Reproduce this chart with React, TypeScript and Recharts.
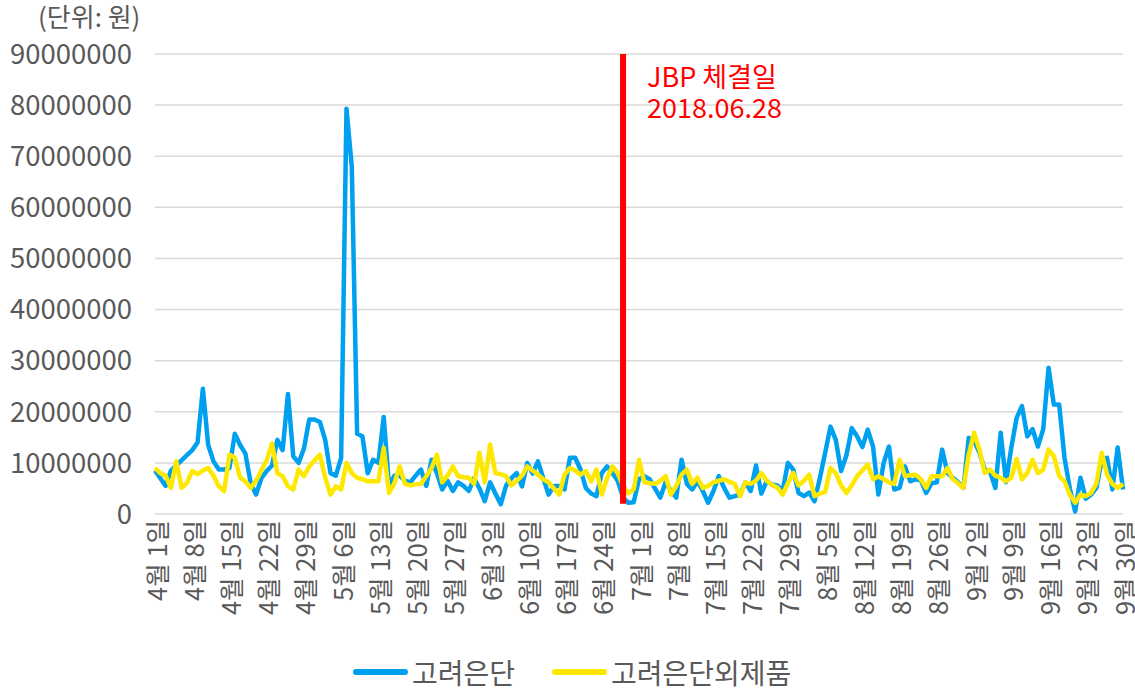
import { LineChart, Line, XAxis, YAxis, CartesianGrid, ReferenceLine } from "recharts";

const MONTHS = [4, 5, 6, 7, 8, 9];
const MONTH_DAYS = [30, 31, 30, 31, 31, 30];
const DATES = MONTHS.flatMap((m, i) =>
  Array.from({ length: MONTH_DAYS[i] }, (_, d) => `${m}월 ${d + 1}일`)
);

const TICK_LABELS = [
  "4월 1일", "4월 8일", "4월 15일", "4월 22일", "4월 29일", "5월 6일", "5월 13일",
  "5월 20일", "5월 27일", "6월 3일", "6월 10일", "6월 17일", "6월 24일", "7월 1일",
  "7월 8일", "7월 15일", "7월 22일", "7월 29일", "8월 5일", "8월 12일", "8월 19일",
  "8월 26일", "9월 2일", "9월 9일", "9월 16일", "9월 23일", "9월 30일",
];

const Y_TICKS = [0, 10000000, 20000000, 30000000, 40000000, 50000000, 60000000, 70000000, 80000000, 90000000];

const SERIES_NAMES = ["고려은단", "고려은단외제품"];
const SERIES_COLORS = ["#00A0F0", "#FFE800"];

// 4/1 ~ 9/30 daily, in won
const EUNDAN = [
  8500000, 7000000, 5500000, 8500000, 9500000, 10500000, 11500000, 12500000, 14000000, 24500000,
  13500000, 10300000, 8700000, 8700000, 9000000, 15700000, 13500000, 11800000, 6000000, 3800000,
  7000000, 8400000, 9500000, 14500000, 12500000, 23500000, 11300000, 10000000, 12800000, 18500000,
  18500000, 18000000, 14500000, 8000000, 7500000, 11000000, 79300000, 68000000, 15700000, 15200000,
  8000000, 10600000, 10000000, 19000000, 5500000, 7500000, 7500000, 6500000, 6200000, 7500000,
  8700000, 5500000, 10600000, 8000000, 4800000, 6500000, 4500000, 6200000, 5500000, 4500000,
  7000000, 5000000, 2500000, 6200000, 4000000, 1900000, 5500000, 7000000, 8000000, 5400000,
  10000000, 7900000, 10300000, 7000000, 3800000, 5500000, 5500000, 4800000, 11000000, 11000000,
  8700000, 5100000, 4000000, 3500000, 8000000, 9300000, 8000000, 6500000, 3200000, 2200000,
  2300000, 6800000, 7400000, 6800000, 5000000, 3200000, 6200000, 4500000, 3200000, 10600000,
  5900000, 4800000, 6400000, 4500000, 2200000, 4500000, 7400000, 5100000, 3200000, 3500000,
  3800000, 6200000, 4500000, 9500000, 4000000, 6400000, 5800000, 5600000, 4500000, 10000000,
  8700000, 4100000, 3500000, 4200000, 2500000, 7000000, 12000000, 17100000, 14500000, 8400000,
  11500000, 16800000, 15200000, 13100000, 16500000, 13200000, 3800000, 10000000, 13200000, 4800000,
  5100000, 9300000, 6400000, 6800000, 6600000, 4100000, 6000000, 6200000, 12600000, 8000000,
  7100000, 6200000, 5100000, 14900000, 14300000, 12000000, 8700000, 8300000, 5100000, 15900000,
  6200000, 13000000, 18800000, 21100000, 15200000, 16600000, 13200000, 16600000, 28600000, 21400000,
  21400000, 11000000, 5000000, 500000, 7100000, 3000000, 3800000, 5100000, 10500000, 11000000,
  4800000, 13000000, 4800000,
];

const EUNDAN_OTHER = [
  9000000, 8000000, 7500000, 5100000, 10300000, 5100000, 6100000, 8400000, 7800000, 8500000,
  9000000, 7500000, 5400000, 4500000, 11600000, 11000000, 7100000, 6400000, 5100000, 6500000,
  8500000, 10500000, 13800000, 8000000, 7400000, 5400000, 4800000, 8700000, 7400000, 9300000,
  10500000, 11600000, 7100000, 3800000, 5400000, 4800000, 10000000, 8000000, 7100000, 6800000,
  6400000, 6400000, 6400000, 12900000, 4100000, 6000000, 9300000, 5900000, 5600000, 5800000,
  5900000, 7400000, 9000000, 11600000, 6200000, 7500000, 9300000, 7400000, 7200000, 7100000,
  5900000, 12000000, 6200000, 13600000, 8000000, 7800000, 7400000, 5600000, 6500000, 7500000,
  9300000, 8500000, 7700000, 6800000, 6200000, 5000000, 3800000, 7700000, 9000000, 8500000,
  7700000, 8400000, 6400000, 8700000, 3800000, 7000000, 9300000, 8000000, 5500000, 4100000,
  4800000, 10600000, 6200000, 6000000, 5900000, 6500000, 7400000, 3800000, 5500000, 7700000,
  8700000, 5900000, 7100000, 5100000, 5500000, 6200000, 6500000, 6800000, 6300000, 5900000,
  3500000, 6200000, 5900000, 6500000, 8000000, 6500000, 5700000, 5200000, 3800000, 6000000,
  8000000, 5600000, 6500000, 7700000, 3500000, 4000000, 4300000, 9000000, 8000000, 5600000,
  4100000, 5600000, 7400000, 8500000, 9700000, 6800000, 7400000, 6800000, 6200000, 5900000,
  10600000, 7400000, 7600000, 7700000, 6800000, 5100000, 7400000, 7400000, 7400000, 9000000,
  6800000, 6000000, 5100000, 11600000, 15900000, 12600000, 8000000, 8700000, 7500000, 7100000,
  6400000, 7100000, 10800000, 6800000, 8000000, 10600000, 8000000, 8700000, 12600000, 11300000,
  7400000, 6400000, 3800000, 2200000, 3800000, 3500000, 4100000, 6000000, 12000000, 7700000,
  5900000, 5100000, 5900000,
];

const EVENT_DATE = "6월 28일";
const EVENT_LABEL = ["JBP 체결일", "2018.06.28"];

const FONT = "'Noto Sans CJK KR', 'Noto Sans', sans-serif";
const TEXT = "#595959";

const data = DATES.map((date, i) => ({
  date,
  a: EUNDAN[i],
  b: EUNDAN_OTHER[i],
}));

function XTick({ x, y, payload }: any) {
  return (
    <text
      x={x}
      y={y}
      transform={`rotate(-90 ${x} ${y})`}
      textAnchor="end"
      dominantBaseline="central"
      fill={TEXT}
      fontSize={25.5}
      fontFamily={FONT}
    >
      {payload.value}
    </text>
  );
}

export default function App() {
  return (
    <div style={{ position: "absolute", left: 0, top: 0, width: 1135, height: 688, fontFamily: FONT }}>
      <LineChart width={1135} height={688} data={data} margin={{ top: 54, right: 12, left: 0, bottom: 0 }}>
        <CartesianGrid vertical={false} stroke="#d9d9d9" strokeWidth={1.5} />
        <XAxis
          dataKey="date"
          ticks={TICK_LABELS}
          interval={0}
          height={174}
          tickSize={0}
          tickMargin={6}
          axisLine={false}
          tickLine={false}
          tick={<XTick />}
        />
        <YAxis
          width={155}
          domain={[0, 90000000]}
          ticks={Y_TICKS}
          interval={0}
          tickSize={0}
          tickMargin={23}
          axisLine={false}
          tickLine={false}
          tickFormatter={(v: number) => String(v)}
          tick={{ fill: TEXT, fontSize: 27.5, fontFamily: FONT }}
        />
        <Line
          dataKey="a"
          name={SERIES_NAMES[0]}
          stroke={SERIES_COLORS[0]}
          strokeWidth={4.5}
          dot={false}
          strokeLinejoin="round"
          isAnimationActive={false}
        />
        <Line
          dataKey="b"
          name={SERIES_NAMES[1]}
          stroke={SERIES_COLORS[1]}
          strokeWidth={4.5}
          dot={false}
          strokeLinejoin="round"
          isAnimationActive={false}
        />
        <ReferenceLine
          segment={[
            { x: EVENT_DATE, y: 90000000 },
            { x: EVENT_DATE, y: 2000000 },
          ]}
          stroke="#FF0000"
          strokeWidth={6}
          ifOverflow="visible"
        />
      </LineChart>

      <div style={{ position: "absolute", left: 38, top: 2, fontSize: 26, color: TEXT, lineHeight: "28px" }}>
        (단위: 원)
      </div>

      {EVENT_LABEL.map((t, i) => (
        <div
          key={t}
          style={{
            position: "absolute",
            left: 647,
            top: 62 + i * 31,
            fontSize: 27,
            lineHeight: "27px",
            color: "#FF0000",
            whiteSpace: "nowrap",
          }}
        >
          {t}
        </div>
      ))}

      <div
        style={{
          position: "absolute",
          left: 353,
          top: 657,
          display: "flex",
          alignItems: "center",
          fontSize: 28,
          lineHeight: "30px",
          color: TEXT,
        }}
      >
        {SERIES_NAMES.map((n, i) => (
          <div key={n} style={{ display: "flex", alignItems: "center", marginRight: i === 0 ? 37 : 0 }}>
            <div style={{ width: 55, height: 6, borderRadius: 3, background: SERIES_COLORS[i], marginRight: 4 }} />
            <span>{n}</span>
          </div>
        ))}
      </div>
    </div>
  );
}
